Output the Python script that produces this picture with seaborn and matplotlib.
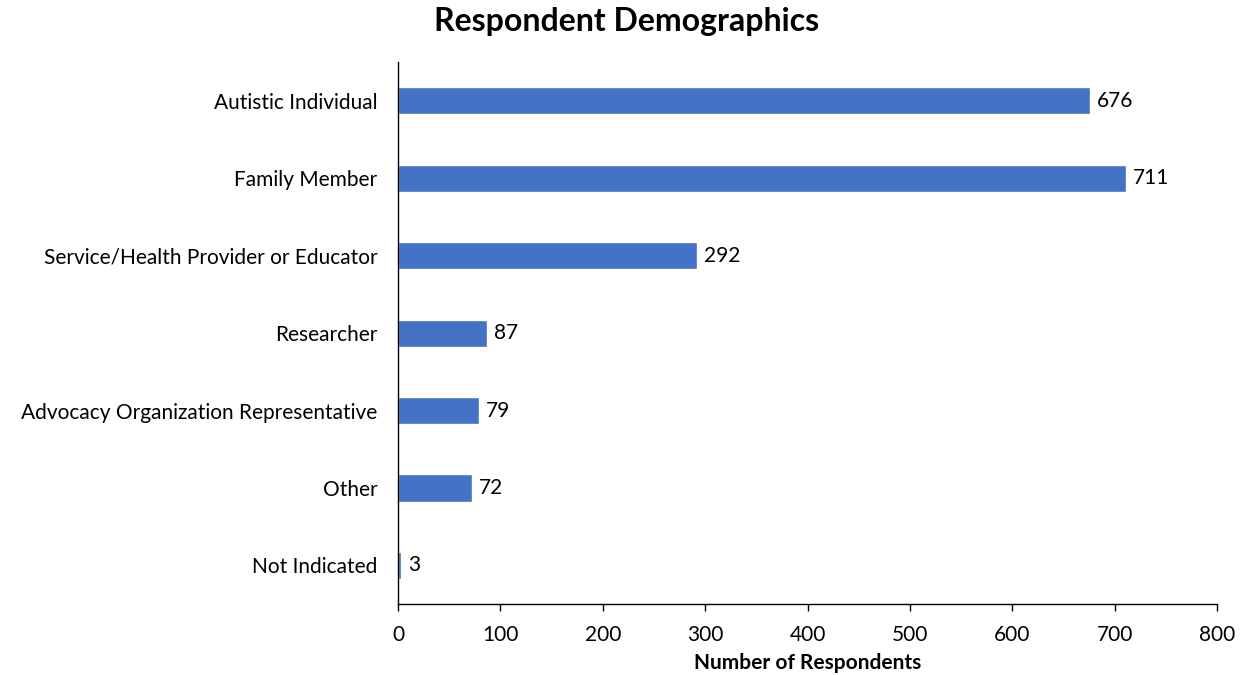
import matplotlib
matplotlib.use("Agg")
import matplotlib.pyplot as plt
import pandas as pd
import seaborn as sns

categories = [
    "Autistic Individual",
    "Family Member",
    "Service/Health Provider or Educator",
    "Researcher",
    "Advocacy Organization Representative",
    "Other",
    "Not Indicated",
]
respondents = [676, 711, 292, 87, 79, 72, 3]
x_ticks = [0, 100, 200, 300, 400, 500, 600, 700, 800]

sns.set_theme(style="white")
plt.rcParams["font.family"] = ["Lato", "DejaVu Sans"]
plt.rcParams["text.color"] = "black"
plt.rcParams["xtick.color"] = "black"
plt.rcParams["ytick.color"] = "black"
plt.rcParams["axes.labelcolor"] = "black"

df = pd.DataFrame({"role": categories, "count": respondents})

fig = plt.figure(figsize=(12.45, 6.75), dpi=100)
ax = fig.add_axes([0.3197, 0.105, 0.6578, 0.803])

sns.barplot(data=df, x="count", y="role", color="#4472C4", width=0.35,
            saturation=1, ax=ax)

for i, v in enumerate(respondents):
    ax.text(v + 7, i, str(v), va="center", ha="left", fontsize=15, color="black")

ax.set_xlim(0, 800)
ax.set_ylim(6.5, -0.5)
ax.set_xticks(x_ticks)
ax.set_xticklabels([str(t) for t in x_ticks], fontsize=15)
ax.tick_params(axis="y", labelsize=15, length=0, pad=15)
ax.tick_params(axis="x", bottom=True, length=5, width=1, color="black", pad=10)
ax.set_ylabel("")
ax.set_xlabel("Number of Respondents", fontsize=15, fontweight="bold", labelpad=6)

sns.despine(ax=ax, top=True, right=True)
for side in ["left", "bottom"]:
    ax.spines[side].set_color("black")
    ax.spines[side].set_linewidth(1)

fig.suptitle("Respondent Demographics", fontsize=23, fontweight="bold",
             x=0.503, y=0.99)

fig.savefig("out.png", dpi=100)
